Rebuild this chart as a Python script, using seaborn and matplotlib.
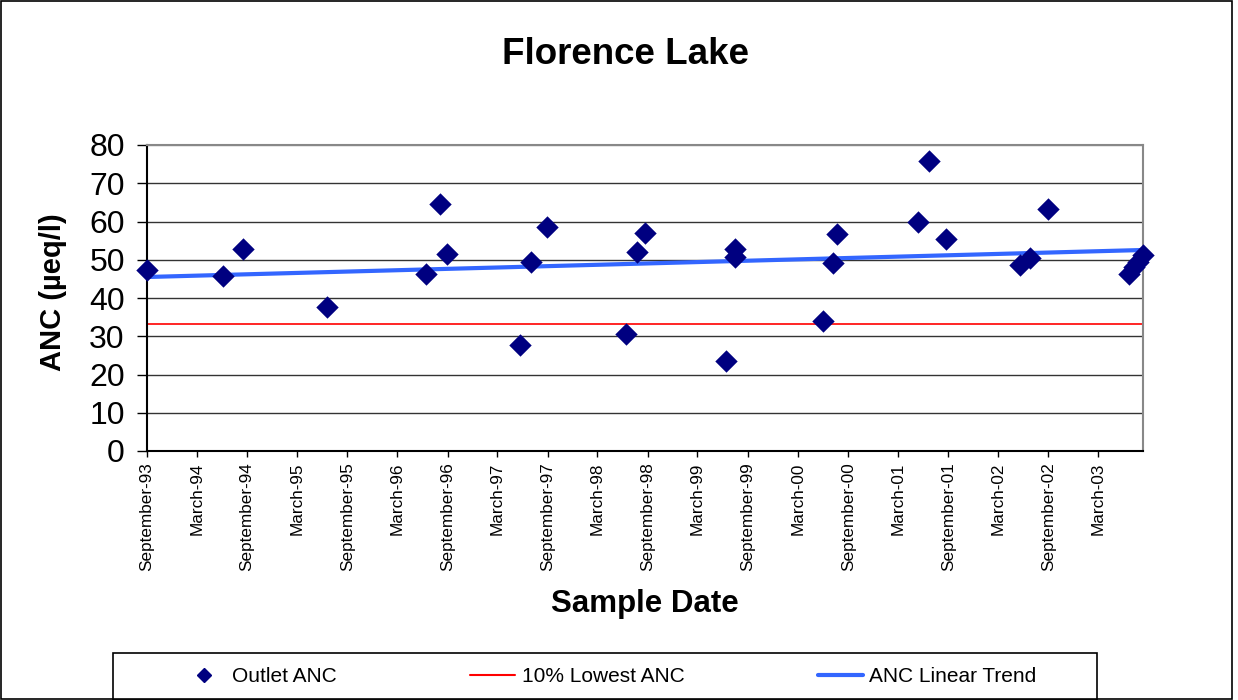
import numpy as np
import pandas as pd
import matplotlib
matplotlib.use("Agg")
import matplotlib.pyplot as plt
import matplotlib.dates as mdates
from matplotlib.lines import Line2D
import seaborn as sns

sample_dates = [
    "1993-09-01", "1994-06-06", "1994-08-16", "1995-06-21", "1996-06-13",
    "1996-08-04", "1996-08-29", "1997-05-23", "1997-07-02", "1997-08-28",
    "1998-06-13", "1998-07-24", "1998-08-23", "1999-06-12", "1999-07-16",
    "1999-07-16", "2000-06-01", "2000-07-06", "2000-07-23", "2001-05-12",
    "2001-06-22", "2001-08-24", "2002-05-20", "2002-06-25", "2002-08-29",
    "2003-06-22", "2003-07-09", "2003-07-25", "2003-08-12",
]
outlet_anc = [
    47.3, 45.7, 52.9, 37.7, 46.4,
    64.6, 51.5, 27.6, 49.5, 58.6,
    30.6, 52.0, 57.1, 23.5, 52.7,
    50.6, 34.0, 49.1, 56.7, 60.0,
    75.9, 55.4, 48.6, 50.4, 63.3,
    46.4, 48.2, 49.5, 51.2,
]
lowest_10pct_anc = 33.2
y_ticks = [0, 10, 20, 30, 40, 50, 60, 70, 80]
legend_labels = ["Outlet ANC", "10% Lowest ANC", "ANC Linear Trend"]

df = pd.DataFrame({"date": pd.to_datetime(sample_dates), "anc": outlet_anc})

sns.set_theme(style="white")
plt.rcParams["font.family"] = ["Liberation Sans", "DejaVu Sans"]
plt.rcParams["text.color"] = "black"
plt.rcParams["xtick.color"] = "black"
plt.rcParams["ytick.color"] = "black"

W, H = 1238, 700
fig = plt.figure(figsize=(W / 100, H / 100), dpi=100)
ax = fig.add_axes([147 / W, 1 - 451 / H, (1143 - 147) / W, (451 - 145) / H])

x0 = df["date"].min()
x1 = df["date"].max()

# grid lines
for v in y_ticks:
    ax.axhline(v, color="#333333" if v < 80 else "#999999", lw=1.0, zorder=0)

# 10% lowest line
ax.plot([x0, x1], [lowest_10pct_anc] * 2, color="#ff0000", lw=1.2, zorder=1)

# linear trend
days = (df["date"] - x0).dt.days.values
coef = np.polyfit(days, df["anc"].values, 1)
trend = pd.DataFrame({"date": [x0, x1],
                      "anc": np.polyval(coef, [0, (x1 - x0).days])})
sns.lineplot(data=trend, x="date", y="anc", ax=ax, color="#3366ff", lw=3, zorder=2)

sns.scatterplot(data=df, x="date", y="anc", ax=ax, marker="D", s=130,
                color="#000080", edgecolor="#000080", linewidth=0, zorder=3,
                clip_on=False)

ax.set_xlim(x0, x1)
ax.set_ylim(0, 80)
ax.set_yticks(y_ticks)
ax.tick_params(axis="y", labelsize=23, length=7, width=1, direction="out",
               left=True, pad=9)
ax.xaxis.set_major_locator(mdates.MonthLocator(bymonth=[3, 9]))
ax.xaxis.set_major_formatter(mdates.DateFormatter("%B-%y"))
ax.tick_params(axis="x", labelsize=12.3, length=4.3, width=1,
               direction="out", bottom=True, pad=4)
for lab in ax.get_xticklabels():
    lab.set_rotation(90)
    lab.set_va("top")
    lab.set_ha("center")

for s in ["left", "bottom"]:
    ax.spines[s].set_color("black")
    ax.spines[s].set_linewidth(1.5)
for s in ["top", "right"]:
    ax.spines[s].set_color("#888888")
    ax.spines[s].set_linewidth(1.5)

ax.set_xlabel("")
ax.set_ylabel("")
fig.text(625 / W, 1 - 55 / H, "Florence Lake", ha="center", va="center",
         fontsize=26.5, fontweight="bold")
fig.text(645 / W, 1 - 604 / H, "Sample Date", ha="center", va="center",
         fontsize=22.5, fontweight="bold")
fig.text(53 / W, 1 - 292 / H, "ANC (µeq/l)", ha="center", va="center",
         rotation=90, fontsize=21, fontweight="bold")

handles = [
    Line2D([], [], marker="D", color="#000080", ls="none", markersize=7.6),
    Line2D([], [], color="#ff0000", lw=1.5),
    Line2D([], [], color="#3366ff", lw=3),
]
leg = fig.legend(handles, legend_labels,
                 loc="center left", bbox_to_anchor=(181 / W, 1 - 677 / H),
                 ncol=3, fontsize=15, frameon=False,
                 columnspacing=6.4, handlelength=2.16, handletextpad=0.3,
                 borderpad=0, borderaxespad=0)

# legend frame
fig.patches.append(plt.Rectangle((113 / W, 0.0), (1097 - 113) / W, 1 - 653 / H,
                                 transform=fig.transFigure, fill=False,
                                 edgecolor="black", lw=1.2))

# figure border
fig.patches.append(plt.Rectangle((0.001, 0.001), 0.994, 0.997, transform=fig.transFigure,
                                 fill=False, edgecolor="black", lw=1.2))

fig.savefig("out.png", dpi=100)
